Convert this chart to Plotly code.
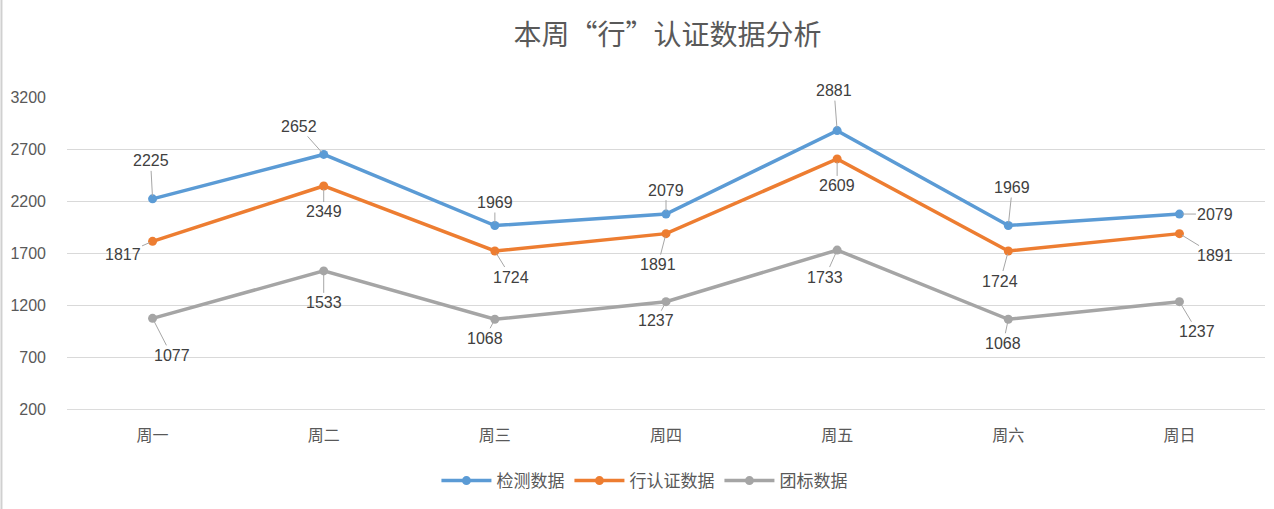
import plotly.graph_objects as go

categories = ["周一", "周二", "周三", "周四", "周五", "周六", "周日"]
series_names = ["检测数据", "行认证数据", "团标数据"]
detect = [2225, 2652, 1969, 2079, 2881, 1969, 2079]
xing = [1817, 2349, 1724, 1891, 2609, 1724, 1891]
tuanbiao = [1077, 1533, 1068, 1237, 1733, 1068, 1237]
y_ticks = [200, 700, 1200, 1700, 2200, 2700, 3200]

colors = ["#5b9bd5", "#ed7d31", "#a5a5a5"]
# label offsets (pixels) for each point: (ax, ay)
offsets = [
    [(-2, -38), (-25, -28), (0, -23), (0, -24), (-3, -40), (4, -38), (36, 0)],
    [(-30, 13), (0, 26), (16, 26), (-8, 31), (0, 27), (-8, 30), (36, 22)],
    [(19, 37), (0, 32), (-10, 19), (-10, 19), (-12, 27), (-5, 24), (18, 30)],
]

fig = go.Figure()
all_series = [detect, xing, tuanbiao]
for name, vals, col in zip(series_names, all_series, colors):
    fig.add_trace(go.Scatter(
        x=categories, y=vals, name=name, mode="lines+markers",
        line=dict(color=col, width=3.5),
        marker=dict(color=col, size=9),
    ))

annotations = []
for vals, offs in zip(all_series, offsets):
    for c, v, (ax, ay) in zip(categories, vals, offs):
        annotations.append(dict(
            x=c, y=v, xref="x", yref="y", text=str(v),
            showarrow=True, arrowhead=0, arrowwidth=1, arrowcolor="#a6a6a6",
            ax=ax, ay=ay, standoff=3,
            font=dict(size=16, color="#404040", family="Liberation Sans, Noto Sans CJK SC"),
        ))
fig.update_layout(annotations=annotations)

fig.add_shape(type="line", xref="paper", yref="paper",
              x0=-0.0547, x1=-0.0547, y0=(410 - 509) / 313, y1=410 / 313,
              line=dict(color="#d0d0d0", width=2))
fig.add_shape(type="line", xref="paper", yref="y",
              x0=0, x1=1, y0=y_ticks[0], y1=y_ticks[0], layer="below",
              line=dict(color="#d9d9d9", width=1))

fig.update_layout(
    width=1274, height=509,
    margin=dict(l=67, r=9, t=97, b=99),
    paper_bgcolor="white", plot_bgcolor="white",
    font=dict(family="Liberation Sans, Noto Sans CJK SC", color="#595959"),
    title=dict(text="本周“行”认证数据分析", x=0.524, xanchor="center",
               y=1 - 35 / 509, yanchor="middle", yref="container",
               font=dict(size=28, color="#595959", family="Noto Sans CJK SC")),
    xaxis=dict(range=[-0.5, 6.5], showgrid=False, showline=False, ticks="", zeroline=False,
               tickfont=dict(size=16, color="#595959", family="Noto Sans CJK SC"),
               ticklabelstandoff=14),
    yaxis=dict(range=[196, 3204], tickvals=y_ticks, showgrid=True,
               gridcolor="#d9d9d9", gridwidth=1, zeroline=False, showline=False,
               tickfont=dict(size=16, color="#595959"), ticklabelstandoff=20),
    legend=dict(orientation="h", x=0.482, xanchor="center", y=-0.227, yanchor="middle",
                font=dict(size=17, color="#595959", family="Noto Sans CJK SC"),
                itemwidth=50, tracegroupgap=0),
    showlegend=True,
)

fig.write_html("out.html")
